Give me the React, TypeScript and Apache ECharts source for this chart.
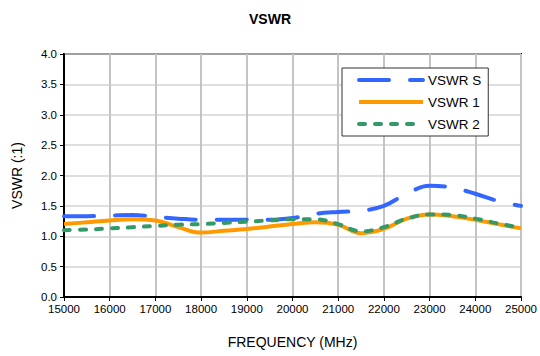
import React, { useEffect, useRef } from "react";
import * as echarts from "echarts";

const freqS = [15000, 15500, 16000, 16500, 17000, 17500, 18000, 18500, 19000, 19500, 20000, 20500, 21000, 21500, 22000, 22500, 23000, 23500, 24000, 24500, 25000];
const vswrS = [1.33, 1.33, 1.34, 1.35, 1.32, 1.29, 1.27, 1.27, 1.27, 1.27, 1.30, 1.37, 1.40, 1.42, 1.50, 1.70, 1.83, 1.80, 1.70, 1.58, 1.50];
const vswr1 = [1.20, 1.23, 1.26, 1.28, 1.26, 1.15, 1.06, 1.09, 1.12, 1.16, 1.20, 1.23, 1.19, 1.05, 1.12, 1.29, 1.36, 1.33, 1.27, 1.20, 1.13];
const vswr2 = [1.10, 1.11, 1.13, 1.15, 1.17, 1.19, 1.20, 1.22, 1.24, 1.26, 1.28, 1.28, 1.20, 1.08, 1.15, 1.29, 1.36, 1.35, 1.29, 1.21, 1.14];
const seriesNames = ["VSWR S", "VSWR 1", "VSWR 2"];

export default function App() {
  const ref = useRef<HTMLDivElement>(null);
  useEffect(() => {
    if (!ref.current) return;
    const chart = echarts.init(ref.current, null, { renderer: "svg" });
    const font = "Liberation Sans, Arial, sans-serif";
    const mk = (vals: number[]) => freqS.map((f, i) => [f, vals[i]]);
    chart.setOption({
      animation: false,
      backgroundColor: "#fff",
      textStyle: { fontFamily: font },
      title: {
        text: "VSWR",
        left: "center",
        top: 7,
        textStyle: { fontSize: 14, fontWeight: "bold", color: "#000", fontFamily: font },
      },
      grid: { left: 64, right: 17, top: 54, bottom: 59, show: true, borderColor: "#000", borderWidth: 2 },
      legend: {
        orient: "vertical",
        left: 342,
        top: 68,
        data: seriesNames,
        backgroundColor: "#fff",
        borderColor: "#333",
        borderWidth: 1,
        padding: [5, 7, 5, 15],
        itemWidth: 64,
        itemHeight: 14,
        itemGap: 8,
        itemStyle: { opacity: 0, borderWidth: 0 },
        lineStyle: { width: 4 },
        textStyle: { fontSize: 13.5, color: "#000", fontFamily: font },
      },
      xAxis: {
        type: "value",
        min: 15000,
        max: 25000,
        interval: 1000,
        name: "FREQUENCY (MHz)",
        nameLocation: "middle",
        nameGap: 38,
        nameTextStyle: { fontSize: 14, color: "#000", fontFamily: font },
        axisLine: { lineStyle: { color: "#000", width: 2 } },
        axisTick: { show: true, length: 4, lineStyle: { color: "#000" } },
        axisLabel: { fontSize: 11.5, color: "#000", margin: 6, fontFamily: font, formatter: (v: number) => String(v) },
        splitLine: { show: true, lineStyle: { color: "#c4c4c4", width: 2 } },
      },
      yAxis: {
        type: "value",
        min: 0,
        max: 4,
        interval: 0.5,
        name: "VSWR (:1)",
        nameLocation: "middle",
        nameGap: 40,
        nameTextStyle: { fontSize: 14, color: "#000", fontFamily: font },
        axisLine: { lineStyle: { color: "#000", width: 2 } },
        axisTick: { show: true, length: 4, lineStyle: { color: "#000" } },
        axisLabel: { fontSize: 11.5, color: "#000", margin: 7, fontFamily: font, formatter: (v: number) => v.toFixed(1) },
        splitLine: { show: true, lineStyle: { color: "#d4d4d4", width: 1.5 } },
      },
      series: [
        {
          name: seriesNames[0],
          type: "line",
          smooth: 0.4,
          symbol: "none",
          data: mk(vswrS),
          itemStyle: { color: "#3366ff" },
          lineStyle: { color: "#3366ff", width: 4, type: [30, 21], cap: "round" },
          z: 3,
        },
        {
          name: seriesNames[1],
          type: "line",
          smooth: 0.4,
          symbol: "none",
          data: mk(vswr1),
          itemStyle: { color: "#ff9900" },
          lineStyle: { color: "#ff9900", width: 4 },
          z: 4,
        },
        {
          name: seriesNames[2],
          type: "line",
          smooth: 0.4,
          symbol: "none",
          data: mk(vswr2),
          itemStyle: { color: "#339966" },
          lineStyle: { color: "#339966", width: 4, type: [6, 10], cap: "round" },
          z: 5,
        },
      ],
    });
    return () => chart.dispose();
  }, []);
  return <div ref={ref} style={{ width: 540, height: 356, position: "absolute", left: 0, top: 0 }} />;
}
